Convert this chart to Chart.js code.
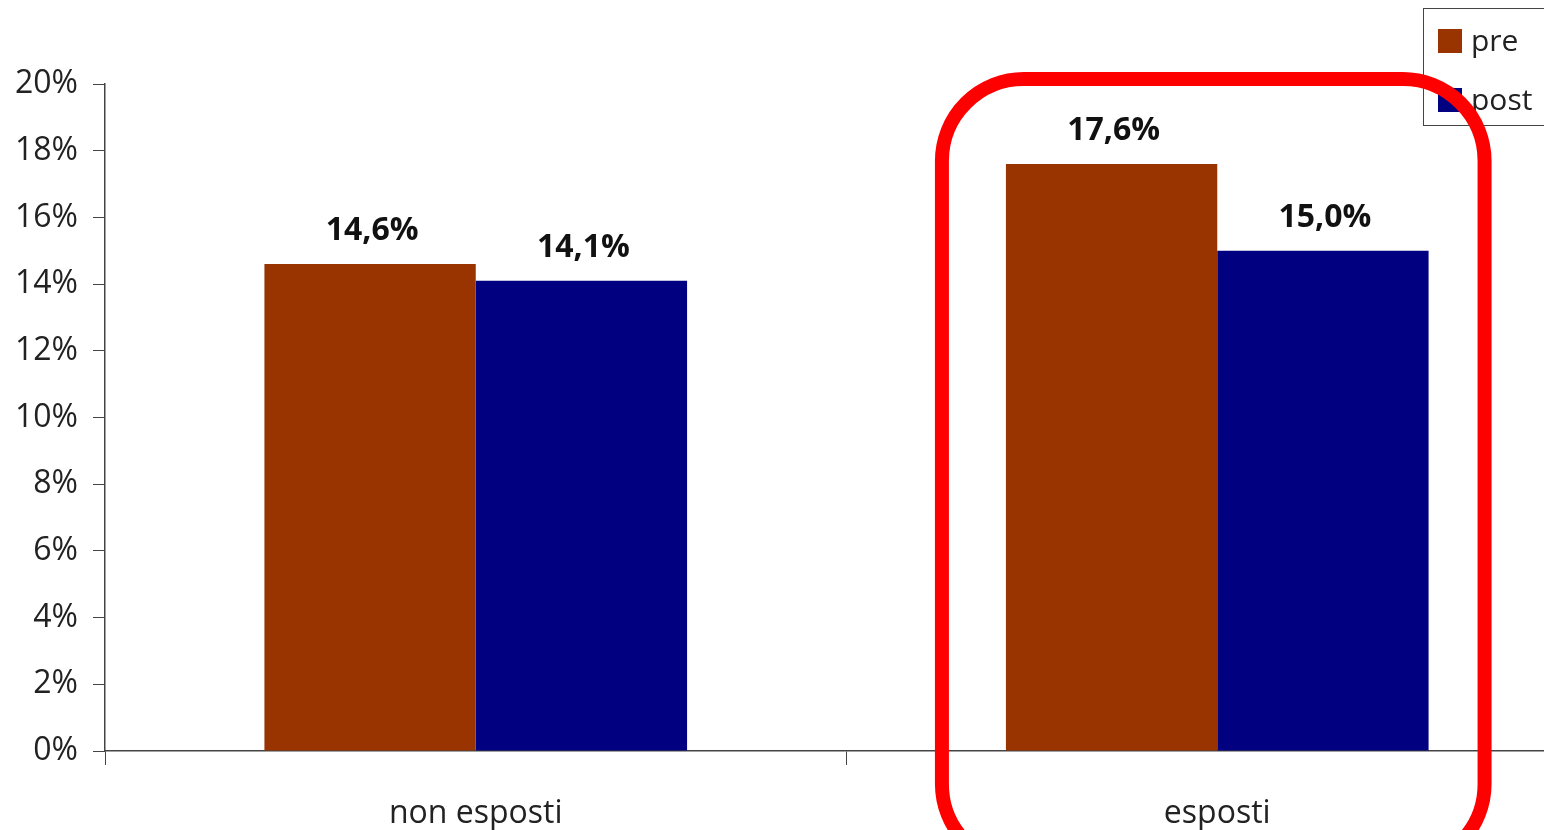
<!DOCTYPE html>
<html>
<head>
<meta charset="utf-8">
<script src="https://cdn.jsdelivr.net/npm/chart.js@4/dist/chart.umd.min.js"></script>
<style>
  html, body { margin: 0; padding: 0; background: #fff; overflow: hidden; }
  #wrap { width: 1588px; height: 830px; }
</style>
</head>
<body>
<div id="wrap"><canvas id="chart" width="1588" height="830"></canvas></div>
<script>
const categories = ['non esposti', 'esposti']
const preValues = [14.6, 17.6]
const postValues = [14.1, 15.0]
const seriesNames = ['pre', 'post']
const yTicks = [0, 2, 4, 6, 8, 10, 12, 14, 16, 18, 20]
const highlighted = 'esposti'

const fontFamily = '"Open Sans", "DejaVu Sans", sans-serif'
const axisColor = '#444'

// values above the bars, italian decimal comma
const labelPlugin = {
    id: 'valueLabels',
    afterDatasetsDraw(chart) {
        const ctx = chart.ctx
        ctx.save()
        ctx.font = 'bold 32px ' + fontFamily
        ctx.fillStyle = '#111'
        ctx.textAlign = 'center'
        ctx.textBaseline = 'alphabetic'
        chart.data.datasets.forEach((ds, i) => {
            chart.getDatasetMeta(i).data.forEach((bar, j) => {
                const txt = ds.data[j].toFixed(1).replace('.', ',') + '%'
                ctx.fillText(txt, bar.x + 2, bar.y - 24)
            })
        })
        ctx.restore()
    }
}

// legend box top right, then the red ring around the highlighted group
const overlayPlugin = {
    id: 'overlay',
    afterDraw(chart) {
        const ctx = chart.ctx
        ctx.save()
        // legend
        const lx = 1423, ly = 8, lw = 140, lh = 117
        ctx.fillStyle = '#fff'
        ctx.fillRect(lx, ly, lw, lh)
        ctx.strokeStyle = '#444'
        ctx.lineWidth = 1
        ctx.strokeRect(lx + 0.5, ly + 0.5, lw, lh)
        ctx.font = '30px ' + fontFamily
        ctx.textBaseline = 'middle'
        chart.data.datasets.forEach((ds, i) => {
            const cy = ly + 33 + i * 59
            ctx.fillStyle = ds.backgroundColor
            ctx.fillRect(lx + 15, cy - 12, 24, 24)
            ctx.fillStyle = '#222'
            ctx.fillText(ds.label, lx + 48, cy + 1)
        })

        // ring
        const idx = categories.indexOf(highlighted)
        const first = chart.getDatasetMeta(0).data[idx]
        const last = chart.getDatasetMeta(chart.data.datasets.length - 1).data[idx]
        const left = first.x - first.width / 2 - 64
        const right = last.x + last.width / 2 + 56
        const top = chart.scales.y.top - 5
        const bottom = chart.scales.y.bottom + 115
        ctx.strokeStyle = '#ff0000'
        ctx.lineWidth = 14
        ctx.beginPath()
        ctx.roundRect(left, top, right - left, bottom - top, 82)
        ctx.stroke()
        ctx.restore()
    }
}

new Chart(document.getElementById('chart'), {
    type: 'bar',
    data: {
        labels: categories,
        datasets: [{
            label: seriesNames[0],
            data: preValues,
            backgroundColor: '#993300',
            categoryPercentage: 0.57,
            barPercentage: 1.0
        }, {
            label: seriesNames[1],
            data: postValues,
            backgroundColor: '#000080',
            categoryPercentage: 0.57,
            barPercentage: 1.0
        }]
    },
    options: {
        responsive: false,
        animation: false,
        layout: {padding: {top: 84, right: 0, bottom: 0, left: 0}},
        plugins: {
            legend: {display: false},
            tooltip: {enabled: false}
        },
        scales: {
            x: {
                grid: {display: true, drawOnChartArea: false, tickLength: 14, color: axisColor, offset: true},
                border: {display: true, color: axisColor, width: 1.5},
                ticks: {
                    font: {family: fontFamily, size: 32},
                    color: '#222',
                    padding: 30
                },
                afterFit: s => { s.height = 79 }
            },
            y: {
                min: 0,
                max: 20,
                afterBuildTicks: s => { s.ticks = yTicks.map(v => ({value: v})) },
                grid: {display: true, drawOnChartArea: false, tickLength: 12, color: axisColor},
                border: {display: true, color: axisColor, width: 1.5},
                ticks: {
                    font: {family: fontFamily, size: 32},
                    color: '#222',
                    padding: 15,
                    callback: v => v + '%'
                },
                afterFit: s => { s.width = 105 }
            }
        }
    },
    plugins: [labelPlugin, overlayPlugin]
})
</script>
</body>
</html>
